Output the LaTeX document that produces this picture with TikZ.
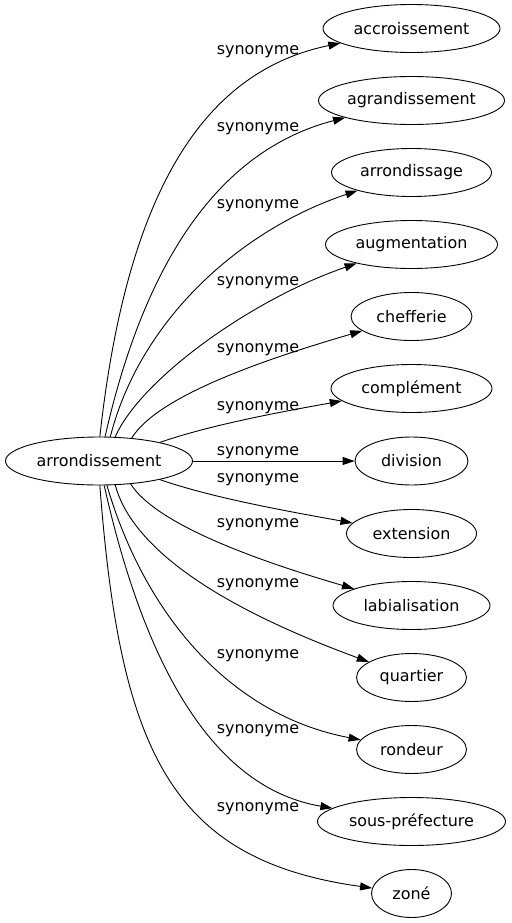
\documentclass[tikz,border=0pt]{standalone}
\usepackage{fontspec}
\setmainfont{DejaVu Sans}
\usetikzlibrary{arrows.meta,shapes.geometric}
\begin{document}
\begin{tikzpicture}[x=1bp,y=-1bp,
  word/.style={draw, ellipse, inner sep=0pt, minimum height=48bp, line width=0.9bp,
    font=\fontsize{16}{19}\selectfont},
  rel/.style={inner sep=0pt, anchor=base, font=\fontsize{16}{19}\selectfont},
  syn/.style={draw, line width=0.9bp, -{Triangle[length=12bp,width=8bp]}}
]
\useasboundingbox (0,0) rectangle (512,923);
\node[word, minimum width=187bp] (src) at (99,461) {arrondissement};
\node[word, minimum width=177bp] (t1) at (411.5,28.5) {accroissement};
\node[word, minimum width=186bp] (t2) at (411.5,100.5) {agrandissement};
\node[word, minimum width=160bp] (t3) at (411.5,172.5) {arrondissage};
\node[word, minimum width=172bp] (t4) at (411.5,244.5) {augmentation};
\node[word, minimum width=121bp] (t5) at (411.5,316.5) {chefferie};
\node[word, minimum width=161bp] (t6) at (411.5,388.5) {complément};
\node[word, minimum width=113bp] (t7) at (411.5,461) {division};
\node[word, minimum width=130bp] (t8) at (411.5,533.5) {extension};
\node[word, minimum width=157bp] (t9) at (411.5,605.5) {labialisation};
\node[word, minimum width=110bp] (t10) at (411.5,677.5) {quartier};
\node[word, minimum width=110bp] (t11) at (411.5,749.5) {rondeur};
\node[word, minimum width=188bp] (t12) at (411.5,821.5) {sous-préfecture};
\node[word, minimum width=80bp] (t13) at (411.5,893.5) {zoné};

\draw[syn] (src.88) .. controls (128,180) and (210,70) .. (t1);
\draw[syn] (src.76) .. controls (145,260) and (220,150) .. (t2);
\draw[syn] (src.65) .. controls (140,320) and (240,230) .. (t3);
\draw[syn] (src.56) .. controls (140,380) and (250,300) .. (t4);
\draw[syn] (src.35) .. controls (155,400) and (245,365) .. (t5);
\draw[syn] (src.17) .. controls (210,425) and (280,412) .. (t6);
\draw[syn] (src.east) -- (t7);
\draw[syn] (src.-17) .. controls (210,497) and (280,510) .. (t8);
\draw[syn] (src.-36) .. controls (155,522) and (245,557) .. (t9);
\draw[syn] (src.-56) .. controls (130,540) and (200,600) .. (t10);
\draw[syn] (src.-72) .. controls (145,615) and (230,715) .. (t11);
\draw[syn] (src.-78) .. controls (150,690) and (225,790) .. (t12);
\draw[syn] (src.-88) .. controls (120,750) and (170,860) .. (t13);

\node[rel] (l1) at (258,54.4) {synonyme};
\node[rel] (l2) at (258,131.4) {synonyme};
\node[rel] (l3) at (258,208.4) {synonyme};
\node[rel] (l4) at (258,285.4) {synonyme};
\node[rel] (l5) at (258,352.4) {synonyme};
\node[rel] (l6) at (258,410.4) {synonyme};
\node[rel] (l7) at (258,455.4) {synonyme};
\node[rel] (l8) at (258,482.4) {synonyme};
\node[rel] (l9) at (258,527.4) {synonyme};
\node[rel] (l10) at (258,587.4) {synonyme};
\node[rel] (l11) at (258,658.4) {synonyme};
\node[rel] (l12) at (258,733.4) {synonyme};
\node[rel] (l13) at (258,811.4) {synonyme};
\end{tikzpicture}
\end{document}
